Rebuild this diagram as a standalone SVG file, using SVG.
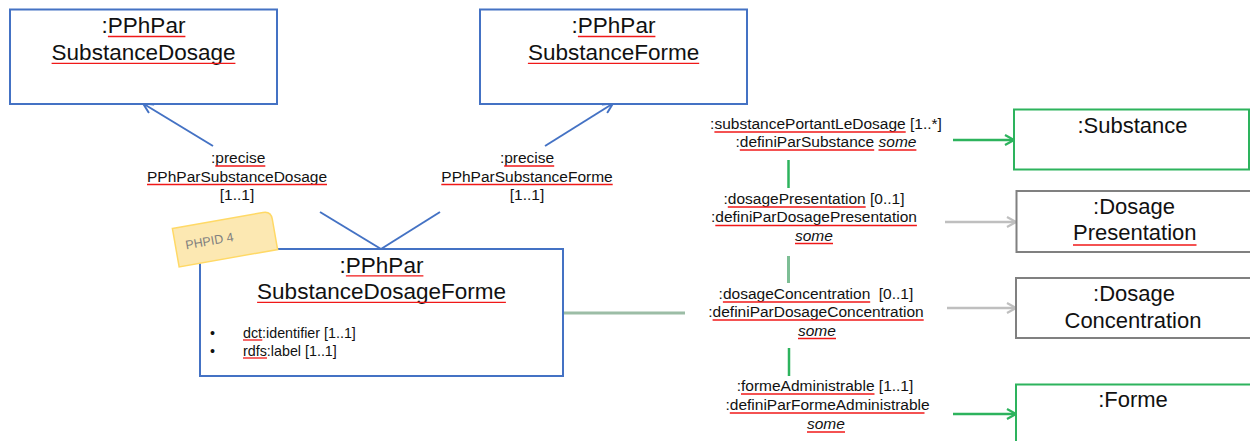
<svg xmlns="http://www.w3.org/2000/svg" width="1250" height="441" viewBox="0 0 1250 441">
<style>
  text { font-family: "Liberation Sans", Arial, sans-serif; fill: #111; }
  .big { font-size: 22.5px; }
  .box { font-size: 22px; }
  .lbl { font-size: 15.5px; }
  .attr { font-size: 14.3px; }
  .it { font-style: italic; }
  .ul { stroke: #F01818; stroke-width: 1.3; fill: none; }
  .blue { fill: #fff; stroke: #4472C4; stroke-width: 2; }
  .grn { fill: #fff; stroke: #2DB35D; stroke-width: 2; }
  .gry { fill: #fff; stroke: #808080; stroke-width: 2; }
  .cb { stroke: #4472C4; stroke-width: 2; fill: none; }
  .cg { stroke: #2DB35D; stroke-width: 2.5; fill: none; }
  .cgr { stroke: #BFBFBF; stroke-width: 2.5; fill: none; }
  .cm { stroke: #9CBDA6; stroke-width: 3; fill: none; }
  .cm2 { stroke: #7DBE95; stroke-width: 3; fill: none; }
</style>
<defs>
  <marker id="aBlue" viewBox="0 0 12 12" refX="11" refY="6" markerWidth="12" markerHeight="12" markerUnits="userSpaceOnUse" orient="auto">
    <path d="M1,1 L11,6 L1,11" fill="none" stroke="#4472C4" stroke-width="2"/>
  </marker>
  <marker id="aGreen" viewBox="0 0 12 12" refX="11" refY="6" markerWidth="12" markerHeight="12" markerUnits="userSpaceOnUse" orient="auto">
    <path d="M2,1 L11,6 L2,11" fill="none" stroke="#2DB35D" stroke-width="2.2"/>
  </marker>
  <marker id="aGray" viewBox="0 0 12 12" refX="11" refY="6" markerWidth="12" markerHeight="12" markerUnits="userSpaceOnUse" orient="auto">
    <path d="M2,1 L11,6 L2,11" fill="none" stroke="#BFBFBF" stroke-width="2.2"/>
  </marker>
</defs>
<rect width="1250" height="441" fill="#fff"/>

<g id="connectors">
  <line class="cb" x1="381" y1="249" x2="320" y2="212"/>
  <line class="cb" x1="213" y1="146" x2="143" y2="103.5" marker-end="url(#aBlue)"/>
  <line class="cb" x1="381" y1="249" x2="440" y2="212"/>
  <line class="cb" x1="545" y1="146" x2="613" y2="103.5" marker-end="url(#aBlue)"/>
  <line class="cm" x1="564" y1="313" x2="685" y2="313"/>
  <line class="cg" x1="788.5" y1="160" x2="788.5" y2="188"/>
  <line class="cm2" x1="788.5" y1="256" x2="788.5" y2="283"/>
  <line class="cg" x1="789" y1="348" x2="789" y2="376"/>
  <line class="cg" x1="953" y1="140" x2="1014" y2="140" marker-end="url(#aGreen)"/>
  <line class="cgr" x1="945" y1="222" x2="1016" y2="222" marker-end="url(#aGray)"/>
  <line class="cgr" x1="947" y1="308" x2="1016" y2="308" marker-end="url(#aGray)"/>
  <line class="cg" x1="953" y1="414" x2="1016" y2="414" marker-end="url(#aGreen)"/>

  <g id="label-dosage">
    <text class="lbl" x="211" y="163">:precise</text>
    <line class="ul" x1="215.3" y1="166" x2="265.3" y2="166"/>
    <text class="lbl" x="147" y="181.5">PPhParSubstanceDosage</text>
    <line class="ul" x1="147" y1="184.5" x2="327" y2="184.5"/>
    <text class="lbl" x="219.8" y="200">[1..1]</text>
  </g>
  <g id="label-forme">
    <text class="lbl" x="499.9" y="163">:precise</text>
    <line class="ul" x1="504.2" y1="166" x2="554.2" y2="166"/>
    <text class="lbl" x="441.3" y="181.5">PPhParSubstanceForme</text>
    <line class="ul" x1="441.3" y1="184.5" x2="612.7" y2="184.5"/>
    <text class="lbl" x="509.8" y="200">[1..1]</text>
  </g>
  <g id="label-substance">
    <text class="lbl" x="710.1" y="129">:substancePortantLeDosage [1..*]</text>
    <line class="ul" x1="714.4" y1="132" x2="905.7" y2="132"/>
    <text class="lbl" x="735.5" y="147">:definiParSubstance <tspan class="it">some</tspan></text>
    <line class="ul" x1="739.8" y1="150" x2="874.2" y2="150"/>
    <line class="ul" x1="878.5" y1="150" x2="916.4" y2="150"/>
  </g>
  <g id="label-presentation">
    <text class="lbl" x="723.5" y="204">:dosagePresentation [0..1]</text>
    <line class="ul" x1="727.8" y1="207" x2="865.7" y2="207"/>
    <text class="lbl" x="711" y="222">:definiParDosagePresentation</text>
    <line class="ul" x1="715.3" y1="225.5" x2="916.9" y2="225.5"/>
    <text class="lbl it" x="795" y="240.5">some</text>
    <line class="ul" x1="795" y1="243.5" x2="833" y2="243.5"/>
  </g>
  <g id="label-concentration">
    <text class="lbl" x="718.6" y="298.5">:dosageConcentration</text>
    <text class="lbl" x="878.8" y="298.5">[0..1]</text>
    <line class="ul" x1="722.9" y1="302" x2="870.2" y2="302"/>
    <text class="lbl" x="708.3" y="317">:definiParDosageConcentration</text>
    <line class="ul" x1="712.6" y1="320" x2="923.7" y2="320"/>
    <text class="lbl it" x="798" y="335.5">some</text>
    <line class="ul" x1="798" y1="338.5" x2="836" y2="338.5"/>
  </g>
  <g id="label-forme-adm">
    <text class="lbl" x="736.7" y="391">:formeAdministrable [1..1]</text>
    <line class="ul" x1="741" y1="394" x2="874.5" y2="394"/>
    <text class="lbl" x="725.5" y="409.5">:definiParFormeAdministrable</text>
    <line class="ul" x1="729.8" y1="413" x2="924.5" y2="413"/>
    <text class="lbl it" x="807" y="428.5">some</text>
    <line class="ul" x1="807" y1="432" x2="845" y2="432"/>
  </g>
</g>

<g id="node-substance-dosage">
  <rect class="blue" x="10" y="9.5" width="267" height="94.5"/>
  <text class="big" x="101.6" y="33">:PPhPar</text>
  <line class="ul" x1="107.9" y1="36.5" x2="185.4" y2="36.5"/>
  <text class="big" x="51.6" y="60">SubstanceDosage</text>
  <line class="ul" x1="51.6" y1="63.3" x2="235.4" y2="63.3"/>
</g>

<g id="node-substance-forme">
  <rect class="blue" x="480" y="9.5" width="267" height="94.5"/>
  <text class="big" x="571.6" y="33">:PPhPar</text>
  <line class="ul" x1="577.9" y1="36.5" x2="655.4" y2="36.5"/>
  <text class="big" x="527.9" y="60">SubstanceForme</text>
  <line class="ul" x1="527.9" y1="63.3" x2="699.2" y2="63.3"/>
</g>

<g id="node-substance-dosage-forme">
  <rect class="blue" x="200" y="249" width="363" height="127"/>
  <text class="big" x="339.6" y="273">:PPhPar</text>
  <line class="ul" x1="345.9" y1="275.8" x2="423.4" y2="275.8"/>
  <text class="big" x="257.1" y="299">SubstanceDosageForme</text>
  <line class="ul" x1="257.1" y1="302.3" x2="505.9" y2="302.3"/>
  <text class="attr" x="210" y="337.5">•</text>
  <text class="attr" x="243" y="337.5">dct:identifier [1..1]</text>
  <line class="ul" x1="243" y1="340" x2="262.3" y2="340"/>
  <text class="attr" x="210" y="355.5">•</text>
  <text class="attr" x="243" y="355.5">rdfs:label [1..1]</text>
  <line class="ul" x1="243" y1="358" x2="267" y2="358"/>
</g>

<g id="note-phpid" transform="translate(225,239) rotate(-10)">
  <path d="M-50,-19.5 L42,-19.5 Q50,-19.5 50,-11.5 L50,19.5 L-50,19.5 Z" fill="#FCE8B2" stroke="#FFD966" stroke-width="1.5"/>
  <text x="-40" y="3.5" style="font-size:12.5px; fill:#7F7F7F;">PHPID 4</text>
</g>

<g id="node-substance">
  <rect class="grn" x="1014" y="109.5" width="235" height="60"/>
  <text class="box" x="1132.5" y="133" text-anchor="middle">:Substance</text>
</g>

<g id="node-dosage-presentation">
  <rect class="gry" x="1016.5" y="191" width="240" height="61"/>
  <text class="box" x="1134" y="213.5" text-anchor="middle">:Dosage</text>
  <text class="box" x="1073" y="239.5">Presentation</text>
  <line class="ul" x1="1073" y1="245" x2="1196.5" y2="245"/>
</g>

<g id="node-dosage-concentration">
  <rect class="gry" x="1016" y="278" width="240" height="60"/>
  <text class="box" x="1134" y="301" text-anchor="middle">:Dosage</text>
  <text class="box" x="1133" y="327.5" text-anchor="middle">Concentration</text>
</g>

<g id="node-forme">
  <rect class="grn" x="1016" y="384.5" width="240" height="80"/>
  <text class="box" x="1133" y="406.5" text-anchor="middle">:Forme</text>
</g>
</svg>
